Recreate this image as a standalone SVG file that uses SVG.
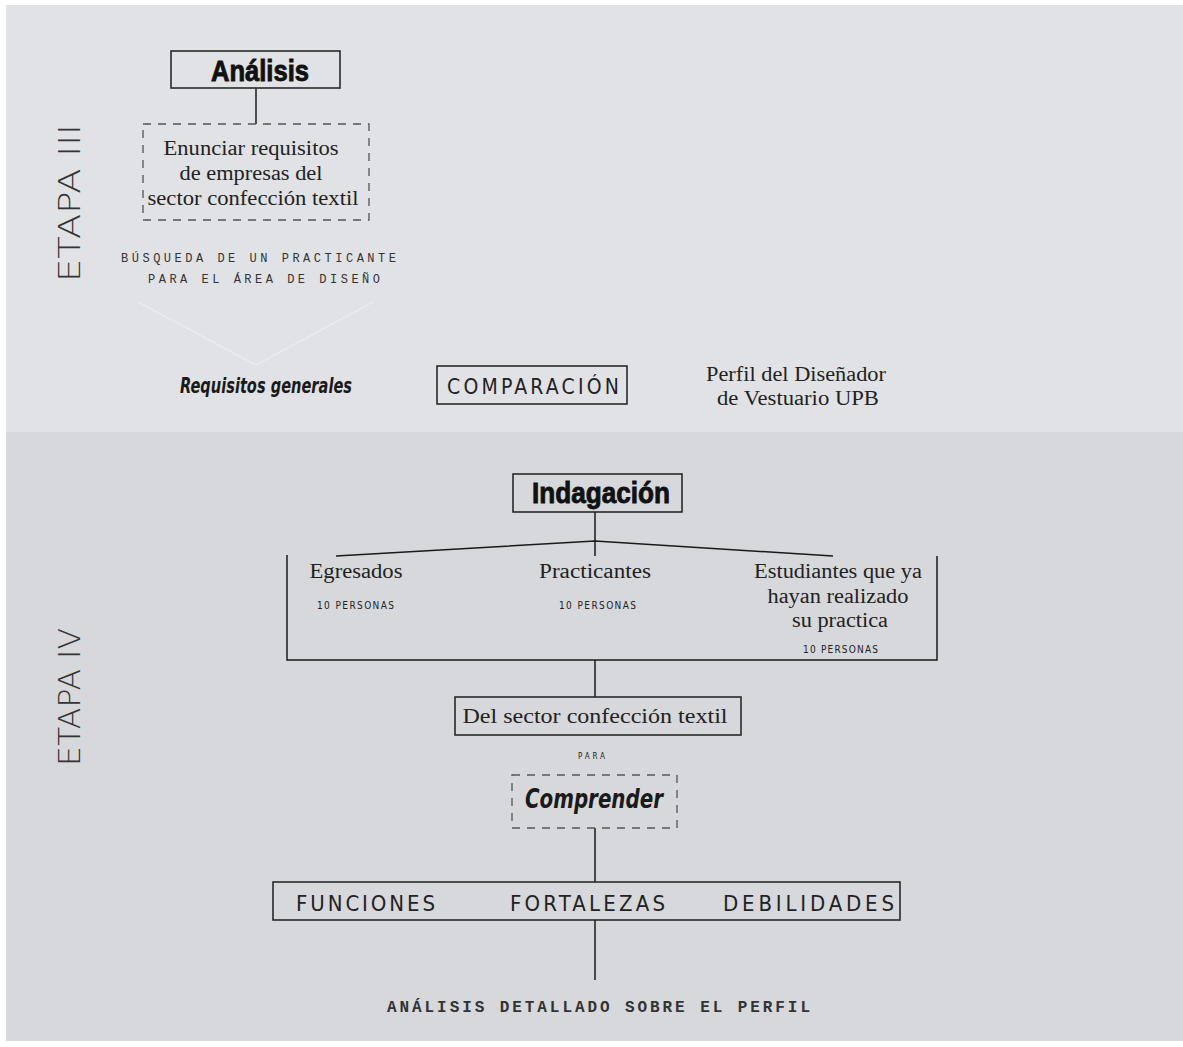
<svg xmlns="http://www.w3.org/2000/svg" width="1183" height="1047" viewBox="0 0 1183 1047">
<style>
.ln{stroke:#1a1a1a;stroke-width:1.5;fill:none}
.box{stroke:#2a2a2a;stroke-width:1.6;fill:none}
.dash{stroke:#555;stroke-width:1.3;fill:none;stroke-dasharray:8 7}
.serif{font-family:"Liberation Serif","DejaVu Serif",serif;fill:#222;font-size:20px}
.heavy{font-family:"Liberation Sans Narrow","Liberation Sans",sans-serif;font-weight:bold;fill:#111;stroke:#111;stroke-width:0.9;font-size:30px}
.script{font-family:"DejaVu Sans Condensed","DejaVu Sans",sans-serif;font-style:italic;font-weight:bold;fill:#1a1a1a}
.caps{font-family:"Liberation Sans Narrow","DejaVu Sans Condensed",sans-serif;fill:#222}
.mono{font-family:"Liberation Mono","DejaVu Sans Mono",monospace;fill:#333}
.etapa{font-family:"DejaVu Sans","Liberation Sans",sans-serif;font-weight:200;fill:#333;font-size:31px}
</style>
<rect x="0" y="0" width="1183" height="1047" fill="#ffffff"/>
<rect x="6" y="5" width="1177" height="427" fill="#e1e2e5"/>
<rect x="6" y="432" width="1177" height="609" fill="#d7d8db"/>

<g id="etapa3"><text class="etapa" transform="translate(80,203) rotate(-90)" text-anchor="middle" textLength="158" lengthAdjust="spacingAndGlyphs">ETAPA III</text></g>
<g id="etapa4"><text class="etapa" transform="translate(80,697) rotate(-90)" text-anchor="middle" textLength="138" lengthAdjust="spacingAndGlyphs">ETAPA IV</text></g>

<g id="connectors">
<line class="ln" x1="256" y1="88" x2="256" y2="124"/>
<polyline points="138,302 256,365 373,302" fill="none" stroke="#ececee" stroke-width="1.2"/>
<line class="ln" x1="595" y1="512" x2="595" y2="556"/>
<polyline class="ln" points="336,556 595,541 833,556"/>
<polyline class="ln" points="287,555 287,660 937,660 937,556"/>
<line class="ln" x1="595" y1="660" x2="595" y2="697"/>
<line class="ln" x1="595" y1="828" x2="595" y2="882"/>
<line class="ln" x1="595" y1="920" x2="595" y2="980"/>
</g>

<g id="analisis">
<rect class="box" x="171" y="51" width="169" height="37"/>
<text class="heavy" x="260" y="81" text-anchor="middle" textLength="98" lengthAdjust="spacingAndGlyphs">Análisis</text>
</g>

<g id="enunciar">
<rect class="dash" x="143" y="124" width="226" height="96"/>
<text class="serif" x="251" y="155" text-anchor="middle" textLength="175" lengthAdjust="spacingAndGlyphs">Enunciar requisitos</text>
<text class="serif" x="251" y="180" text-anchor="middle" textLength="143" lengthAdjust="spacingAndGlyphs">de empresas del</text>
<text class="serif" x="253" y="205" text-anchor="middle" textLength="211" lengthAdjust="spacingAndGlyphs">sector confección textil</text>
</g>

<g id="busqueda">
<text class="mono" x="121" y="262" font-size="12" textLength="275" lengthAdjust="spacing">BÚSQUEDA DE UN PRACTICANTE</text>
<text class="mono" x="148" y="283" font-size="12" textLength="232" lengthAdjust="spacing">PARA EL ÁREA DE DISEÑO</text>
</g>

<g id="requisitos">
<text class="script" x="266" y="393" font-size="22" text-anchor="middle" textLength="172" lengthAdjust="spacingAndGlyphs">Requisitos generales</text>
</g>

<g id="comparacion">
<rect class="box" x="437" y="366" width="190" height="38"/>
<text class="caps" x="447" y="394" font-size="21" textLength="172" lengthAdjust="spacing">COMPARACIÓN</text>
</g>

<g id="perfil">
<text class="serif" x="796" y="381" text-anchor="middle" textLength="180" lengthAdjust="spacingAndGlyphs">Perfil del Diseñador</text>
<text class="serif" x="798" y="405" text-anchor="middle" textLength="162" lengthAdjust="spacingAndGlyphs">de Vestuario UPB</text>
</g>

<g id="indagacion">
<rect class="box" x="513" y="474" width="169" height="38"/>
<text class="heavy" x="601" y="503" text-anchor="middle" textLength="138" lengthAdjust="spacingAndGlyphs">Indagación</text>
</g>

<g id="egresados">
<text class="serif" x="356" y="578" text-anchor="middle" textLength="93" lengthAdjust="spacingAndGlyphs">Egresados</text>
<text class="caps" x="317" y="609" font-size="10" textLength="77" lengthAdjust="spacing">10 PERSONAS</text>
</g>
<g id="practicantes">
<text class="serif" x="595" y="578" text-anchor="middle" textLength="112" lengthAdjust="spacingAndGlyphs">Practicantes</text>
<text class="caps" x="559" y="609" font-size="10" textLength="77" lengthAdjust="spacing">10 PERSONAS</text>
</g>
<g id="estudiantes">
<text class="serif" x="838" y="578" text-anchor="middle" textLength="168" lengthAdjust="spacingAndGlyphs">Estudiantes que ya</text>
<text class="serif" x="838" y="603" text-anchor="middle" textLength="141" lengthAdjust="spacingAndGlyphs">hayan realizado</text>
<text class="serif" x="840" y="627" text-anchor="middle" textLength="96" lengthAdjust="spacingAndGlyphs">su practica</text>
<text class="caps" x="803" y="653" font-size="10" textLength="75" lengthAdjust="spacing">10 PERSONAS</text>
</g>

<g id="delsector">
<rect class="box" x="455" y="697" width="286" height="38"/>
<text class="serif" x="595" y="723" text-anchor="middle" textLength="265" lengthAdjust="spacingAndGlyphs">Del sector confección textil</text>
</g>

<g id="para"><text class="caps" x="578" y="759" font-size="8" fill="#444" textLength="27" lengthAdjust="spacing">PARA</text></g>

<g id="comprender">
<rect class="dash" x="512" y="775" width="165" height="53"/>
<text class="script" x="594" y="808" font-size="27" text-anchor="middle" textLength="138" lengthAdjust="spacingAndGlyphs">Comprender</text>
</g>

<g id="funciones">
<rect class="box" x="273" y="882" width="627" height="38"/>
<text class="caps" x="296" y="911" font-size="22" textLength="139" lengthAdjust="spacing">FUNCIONES</text>
<text class="caps" x="510" y="911" font-size="22" textLength="155" lengthAdjust="spacing">FORTALEZAS</text>
<text class="caps" x="723" y="911" font-size="22" textLength="171" lengthAdjust="spacing">DEBILIDADES</text>
</g>

<g id="analisis-detallado">
<text class="mono" x="387" y="1012" font-size="16" font-weight="bold" fill="#111" textLength="423" lengthAdjust="spacing">ANÁLISIS DETALLADO SOBRE EL PERFIL</text>
</g>
</svg>
